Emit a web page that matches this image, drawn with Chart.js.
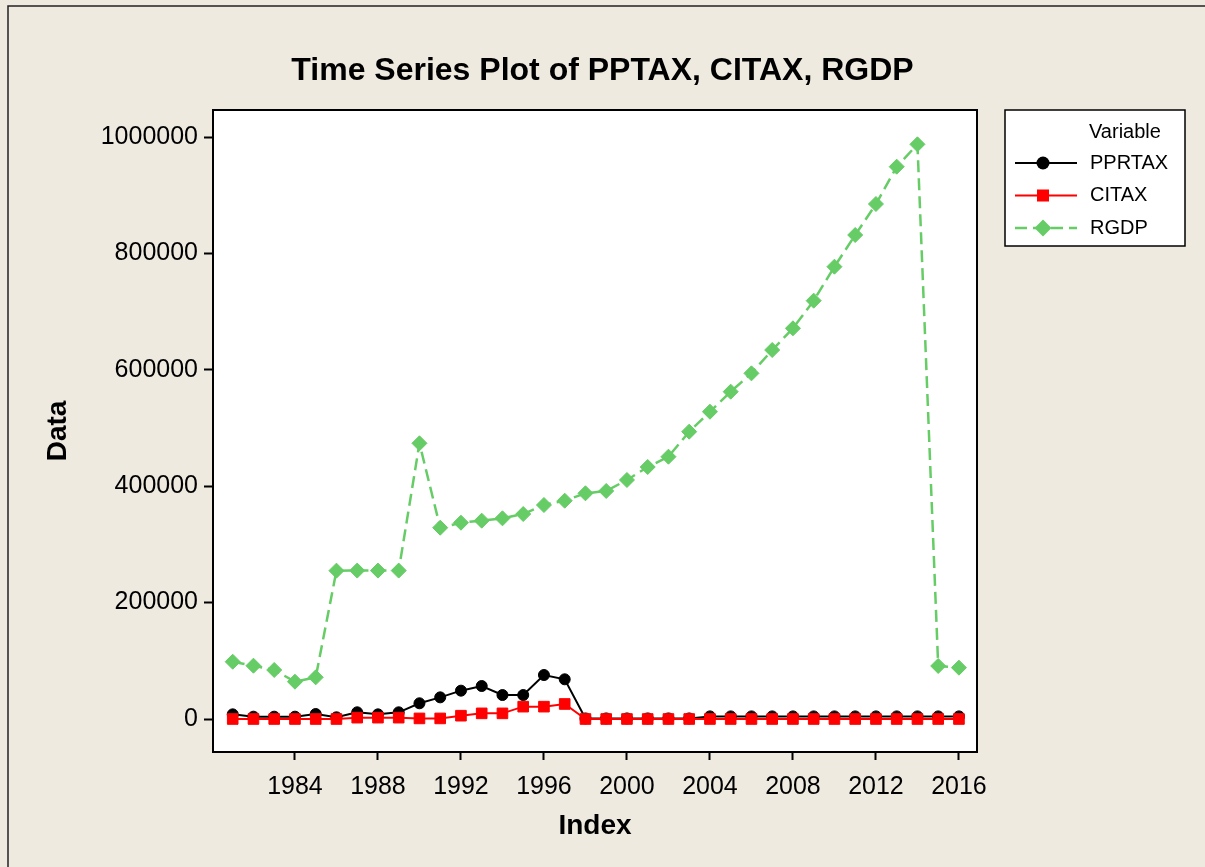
<!DOCTYPE html>
<html>
<head>
<meta charset="utf-8">
<script src="https://cdn.jsdelivr.net/npm/chart.js@4.4.1/dist/chart.umd.min.js"></script>
<style>
  html, body { margin: 0; padding: 0; background: #eeeae0; }
  canvas { display: block; }
</style>
</head>
<body>
<canvas id="tsChart" width="1205" height="867"></canvas>
<script>
// years on the index axis
const years = [1981, 1982, 1983, 1984, 1985, 1986, 1987, 1988, 1989, 1990,
               1991, 1992, 1993, 1994, 1995, 1996, 1997, 1998, 1999, 2000,
               2001, 2002, 2003, 2004, 2005, 2006, 2007, 2008, 2009, 2010,
               2011, 2012, 2013, 2014, 2015, 2016];

// series values
const pprtax = [8000, 4000, 4000, 4000, 8600, 2900, 11500, 8000, 11500, 27000,
                37200, 48700, 56700, 41200, 41200, 75600, 68200, 1000, 1000, 1000,
                1000, 1000, 1000, 4500, 4500, 4500, 4500, 4500, 4500, 4500,
                4500, 4500, 4500, 4500, 4500, 4500];
const citax = [0, 0, 0, 0, 0, 0, 2300, 2300, 2300, 1000,
               1000, 5700, 9700, 9700, 21200, 21200, 25800, 0, 0, 0,
               0, 0, 0, 0, 0, 0, 0, 0, 0, 0,
               0, 0, 0, 0, 0, 0];
const rgdp = [98400, 91600, 84200, 64100, 71600, 254900, 255000, 255000, 255000, 473700,
              328700, 337300, 340800, 344800, 352200, 367700, 375100, 387800, 391800, 410700,
              433000, 450700, 493700, 528000, 562400, 593900, 634000, 671300, 718800, 777200,
              831600, 884900, 949000, 987400, 91100, 88200];

// tick labels
const xTicks = [1984, 1988, 1992, 1996, 2000, 2004, 2008, 2012, 2016];
const yTicks = [0, 200000, 400000, 600000, 800000, 1000000];

const toPoints = vals => years.map((yr, i) => ({ x: yr, y: vals[i] }));

const FONT = "'Liberation Sans', Arial, sans-serif";
Chart.defaults.color = '#000';
Chart.defaults.font.family = FONT;

// page background, frame, white plot area, legend box
const minitabLook = {
    id: 'minitabLook',
    beforeDraw(chart) {
        const c = chart.ctx;
        const a = chart.chartArea;
        c.save();
        c.fillStyle = '#eeeae0';
        c.fillRect(0, 0, chart.width, chart.height);
        c.strokeStyle = '#222';
        c.lineWidth = 1.5;
        c.beginPath();
        c.moveTo(8, chart.height);
        c.lineTo(8, 6);
        c.lineTo(chart.width, 6);
        c.stroke();
        c.fillStyle = '#fff';
        c.fillRect(a.left, a.top, a.right - a.left, a.bottom - a.top);
        c.restore();
    },
    afterDraw(chart) {
        const c = chart.ctx;
        const a = chart.chartArea;
        c.save();
        c.strokeStyle = '#000';
        c.lineWidth = 2;
        c.strokeRect(a.left, a.top, a.right - a.left, a.bottom - a.top);

        // legend
        const bx = a.right + 28, by = a.top, bw = 180, bh = 136;
        c.fillStyle = '#fff';
        c.fillRect(bx, by, bw, bh);
        c.lineWidth = 1.5;
        c.strokeRect(bx, by, bw, bh);
        c.fillStyle = '#000';
        c.font = '20px ' + FONT;
        c.textBaseline = 'middle';
        c.textAlign = 'left';
        c.fillText('Variable', bx + 84, by + 22);
        chart.data.datasets.forEach((ds, i) => {
            const y = by + 53 + i * 32.5;
            c.strokeStyle = ds.borderColor;
            c.lineWidth = ds.borderWidth;
            c.setLineDash(ds.borderDash || []);
            c.beginPath();
            c.moveTo(bx + 10, y);
            c.lineTo(bx + 72, y);
            c.stroke();
            c.setLineDash([]);
            c.fillStyle = ds.pointBackgroundColor;
            Chart.helpers.drawPoint(c, {
                pointStyle: ds.pointStyle,
                radius: ds.pointRadius + 1,
                borderWidth: 0,
                rotation: 0
            }, bx + 38, y);
            c.fillStyle = '#000';
            c.fillText(ds.label, bx + 85, y);
        });
        c.restore();
    }
};

new Chart(document.getElementById('tsChart'), {
    type: 'line',
    data: {
        datasets: [{
            label: 'PPRTAX',
            data: toPoints(pprtax),
            borderColor: '#000',
            borderWidth: 2,
            pointStyle: 'circle',
            pointRadius: 5.5,
            pointBackgroundColor: '#000',
            pointBorderColor: '#000',
            pointBorderWidth: 1,
            order: 3
        }, {
            label: 'CITAX',
            data: toPoints(citax),
            borderColor: '#ff0000',
            borderWidth: 2,
            pointStyle: 'rect',
            pointRadius: 7.5,
            pointBackgroundColor: '#ff0000',
            pointBorderColor: '#ff0000',
            pointBorderWidth: 1,
            order: 2
        }, {
            label: 'RGDP',
            data: toPoints(rgdp),
            borderColor: '#66cc66',
            borderWidth: 2.5,
            borderDash: [12, 6],
            pointStyle: 'rectRot',
            pointRadius: 7.5,
            pointBackgroundColor: '#66cc66',
            pointBorderColor: '#66cc66',
            pointBorderWidth: 1,
            order: 1
        }]
    },
    options: {
        responsive: false,
        animation: false,
        devicePixelRatio: 1,
        layout: { padding: 0 },
        elements: { line: { tension: 0 } },
        plugins: {
            legend: { display: false },
            tooltip: { enabled: false },
            title: {
                display: true,
                text: 'Time Series Plot of PPTAX, CITAX, RGDP',
                font: { size: 32, weight: 'bold', family: FONT },
                padding: { top: 52, bottom: 19.6 }
            }
        },
        scales: {
            x: {
                type: 'linear',
                min: 1980.05,
                max: 2016.87,
                afterBuildTicks: s => { s.ticks = xTicks.map(v => ({ value: v })); },
                afterFit: s => { s.height = 115; },
                ticks: {
                    font: { size: 25 },
                    padding: 12,
                    maxRotation: 0,
                    callback: v => String(v)
                },
                grid: {
                    drawOnChartArea: false,
                    tickLength: 8,
                    tickColor: '#000',
                    tickWidth: 2
                },
                border: { display: false },
                title: {
                    display: true,
                    text: 'Index',
                    font: { size: 28, weight: 'bold' },
                    padding: { bottom: 24 }
                }
            },
            y: {
                type: 'linear',
                min: -56700,
                max: 1046400,
                afterBuildTicks: s => { s.ticks = yTicks.map(v => ({ value: v })); },
                afterFit: s => { s.width = 213; },
                ticks: {
                    font: { size: 25 },
                    padding: 6,
                    callback: v => String(v)
                },
                grid: {
                    drawOnChartArea: false,
                    tickLength: 9,
                    tickColor: '#000',
                    tickWidth: 2
                },
                border: { display: false },
                title: {
                    display: true,
                    text: 'Data',
                    font: { size: 28, weight: 'bold' },
                    padding: { top: 41 }
                }
            },
            // empty right-hand axis that keeps room for the legend
            yRoom: {
                type: 'linear',
                position: 'right',
                display: true,
                afterFit: s => { s.width = 228; },
                ticks: { display: false },
                grid: { display: false },
                border: { display: false }
            }
        }
    },
    plugins: [minitabLook]
});
</script>
</body>
</html>
